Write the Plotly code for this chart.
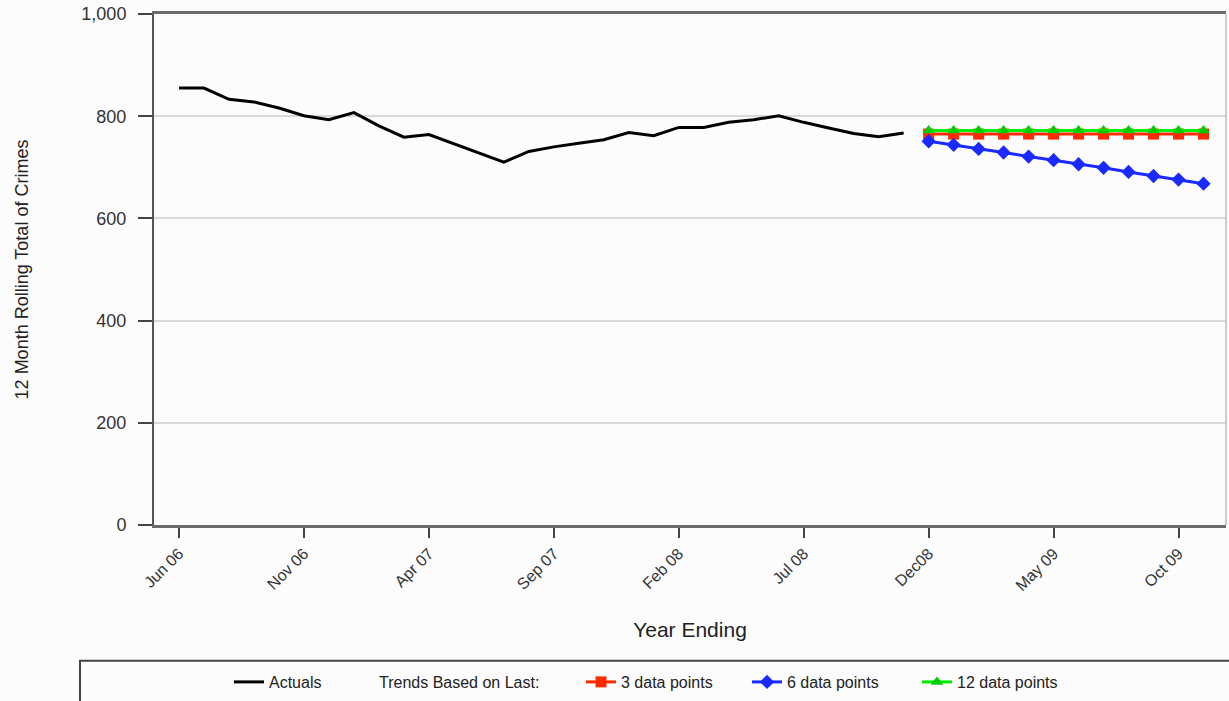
import plotly.graph_objects as go

# ---- data ----
month_names = ["Jan", "Feb", "Mar", "Apr", "May", "Jun", "Jul", "Aug", "Sep", "Oct", "Nov", "Dec"]
months = []
for i in range(42):
    m = (5 + i) % 12
    y = 6 + (5 + i) // 12
    months.append(f"{month_names[m]} {y:02d}")

actuals = [855, 855, 833, 828, 816, 801, 793, 807, 781, 759,
           764, 746, 728, 710, 731, 740, 747, 754, 768, 762,
           778, 778, 788, 793, 801, 788, 777, 766, 760, 767]

trend_3 = [765] * 12
trend_6 = [751, 744, 736, 729, 721, 714, 706, 699, 691, 683, 676, 668]
trend_12 = [772] * 12

tick_months = months[::5]
tick_labels = ["Jun 06", "Nov 06", "Apr 07", "Sep 07", "Feb 08", "Jul 08", "Dec08", "May 09", "Oct 09"]

y_ticks = [0, 200, 400, 600, 800, 1000]

# ---- figure ----
FONT = "Liberation Sans, Arial, sans-serif"
fig = go.Figure()

fig.add_trace(go.Scatter(
    x=months[:30], y=actuals, mode="lines", name="Actuals",
    line=dict(color="#000000", width=3), legend="legend",
))
fig.add_trace(go.Scatter(
    x=[None], y=[None], mode="lines", name="Trends Based on Last:",
    line=dict(color="rgba(0,0,0,0)", width=0), legend="legend2",
))
fig.add_trace(go.Scatter(
    x=months[30:], y=trend_3, mode="lines+markers", name="3 data points",
    line=dict(color="#ff2a00", width=3),
    marker=dict(symbol="square", size=11, color="#ff2a00"), legend="legend3",
))
fig.add_trace(go.Scatter(
    x=months[30:], y=trend_6, mode="lines+markers", name="6 data points",
    line=dict(color="#1a2aff", width=3),
    marker=dict(symbol="diamond", size=11, color="#1a2aff"), legend="legend4",
))
fig.add_trace(go.Scatter(
    x=months[30:], y=trend_12, mode="lines+markers", name="12 data points",
    line=dict(color="#00ee00", width=3),
    marker=dict(symbol="triangle-up", size=11, color="#00cc00"), legend="legend5",
))

L, R, T, B = 154, 3, 14, 175
W, H = 1229, 701
pw = W - L - R
ph = H - T - B

def px_x(p):
    return (p - L) / pw

def px_y(p):
    return (H - B - p) / ph

def leg(xp):
    return dict(
        orientation="h",
        x=px_x(xp), xanchor="left",
        y=px_y(682), yanchor="middle",
        font=dict(size=16, color="#222222", family=FONT),
        bgcolor="rgba(0,0,0,0)",
        borderwidth=0,
    )

fig.update_layout(
    width=W, height=H,
    margin=dict(l=L, r=R, t=T, b=B),
    paper_bgcolor="#fcfcfc",
    plot_bgcolor="#fcfcfc",
    font=dict(family=FONT, size=15, color="#333333"),
    showlegend=True,
    legend=leg(229),
    legend2=leg(339),
    legend3=leg(581),
    legend4=leg(747),
    legend5=leg(917),
    xaxis=dict(
        type="category",
        categoryorder="array", categoryarray=months,
        range=[-1, 41.9],
        tickmode="array", tickvals=tick_months, ticktext=tick_labels,
        tickangle=-45,
        ticks="outside", ticklen=10, tickwidth=2, tickcolor="#444444",
        showline=True, linecolor="#6b6b6b", linewidth=3, mirror=True,
        showgrid=False, zeroline=False,
        tickfont=dict(size=16, color="#333333"),
        title=dict(text="Year Ending", font=dict(size=21, color="#222222"), standoff=30),
    ),
    yaxis=dict(
        range=[0, 1000],
        tickmode="array", tickvals=y_ticks,
        tickformat=",",
        ticks="outside", ticklen=14, tickwidth=2, tickcolor="#444444",
        ticklabelstandoff=8,
        showline=True, linecolor="#555555", linewidth=2,
        showgrid=True, gridcolor="#d9d9d9", gridwidth=1.5,
        zeroline=False,
        tickfont=dict(size=18, color="#333333"),
        title=dict(text="12 Month Rolling Total of Crimes", font=dict(size=18, color="#222222"), standoff=48),
    ),
    shapes=[
        dict(type="line", xref="paper", yref="paper", x0=1, x1=1, y0=0, y1=1,
             line=dict(color="#bdbdbd", width=1.5)),
        dict(type="rect", xref="paper", yref="paper",
             x0=px_x(80), x1=px_x(1240), y0=px_y(662), y1=px_y(720),
             line=dict(color="#444444", width=2), fillcolor="rgba(0,0,0,0)"),
    ],
)

fig.write_html(
    "out.html",
    config={"displayModeBar": False},
    post_script="document.body.style.margin='0';document.body.style.overflow='hidden';",
)
